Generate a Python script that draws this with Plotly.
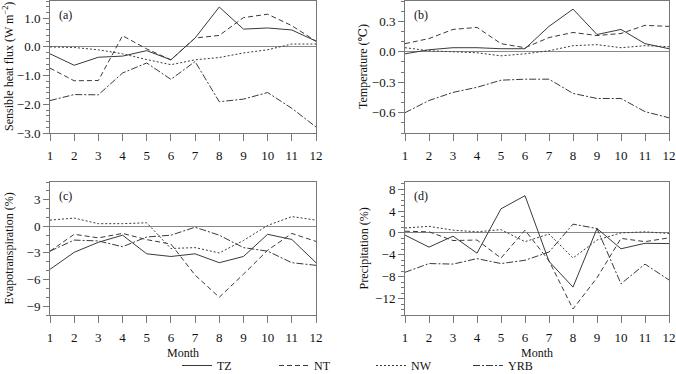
import plotly.graph_objects as go

W, H = 676, 380  # figure slightly taller than the 374px window; bottom rows are blank
months = list(range(1, 13))
series_names = ["TZ", "NT", "NW", "YRB"]

sh_TZ = [-0.24, -0.64, -0.36, -0.32, -0.13, -0.45, 0.31, 1.39, 0.62, 0.66, 0.59, 0.20]
sh_NT = [-0.74, -1.18, -1.17, 0.39, -0.07, -0.45, 0.31, 0.40, 1.02, 1.14, 0.74, 0.20]
sh_NW = [0.00, -0.02, -0.10, -0.24, -0.44, -0.62, -0.45, -0.37, -0.21, -0.10, 0.10, 0.10]
sh_YRB = [-1.87, -1.66, -1.67, -0.91, -0.56, -1.13, -0.51, -1.91, -1.82, -1.59, -2.14, -2.79]

tmp_TZ = [-0.02, 0.02, 0.04, 0.04, 0.03, 0.03, 0.25, 0.42, 0.17, 0.22, 0.08, 0.03]
tmp_NT = [0.08, 0.13, 0.22, 0.24, 0.08, 0.04, 0.14, 0.19, 0.16, 0.18, 0.26, 0.25]
tmp_NW = [0.04, 0.01, 0.00, -0.01, -0.04, -0.02, 0.01, 0.06, 0.07, 0.04, 0.06, 0.05]
tmp_YRB = [-0.60, -0.48, -0.40, -0.35, -0.28, -0.27, -0.27, -0.41, -0.46, -0.46, -0.59, -0.65]

ev_TZ = [-4.85, -2.93, -1.8, -1.0, -3.1, -3.4, -3.1, -4.1, -3.4, -0.9, -1.48, -4.1]
ev_NT = [-2.8, -0.9, -1.3, -0.8, -1.5, -2.0, -5.5, -8.0, -5.4, -2.7, -0.8, -1.7]
ev_NW = [0.7, 0.93, 0.3, 0.3, 0.4, -2.5, -2.4, -3.0, -1.6, 0.1, 1.1, 0.7]
ev_YRB = [-2.8, -1.55, -1.65, -2.3, -1.2, -1.0, -0.1, -1.0, -2.4, -2.8, -4.1, -4.4]

pr_TZ = [-0.4, -2.6, -0.6, -3.7, 4.4, 6.8, -5.2, -9.9, 0.8, -2.9, -1.9, -1.95]
pr_NT = [0.3, 0.2, -1.4, -1.3, -4.6, 0.5, -5.1, -13.9, -8.2, -1.0, -1.6, -0.9]
pr_NW = [0.9, 1.2, 0.5, 0.2, 0.6, -1.6, -0.2, -4.6, -1.3, 0.0, 0.2, -0.1]
pr_YRB = [-7.2, -5.6, -5.7, -4.7, -5.6, -5.0, -3.5, 1.6, 0.8, -9.3, -5.7, -8.6]

panel_labels = ["(a)", "(b)", "(c)", "(d)"]
y_titles = ["Sensible heat flux (W m<sup>−2</sup>)", "Temperature (℃)",
            "Evapotranspiration (%)", "Precipitation (%)"]
x_title = "Month"

panels = [
    [sh_TZ, sh_NT, sh_NW, sh_YRB],
    [tmp_TZ, tmp_NT, tmp_NW, tmp_YRB],
    [ev_TZ, ev_NT, ev_NW, ev_YRB],
    [pr_TZ, pr_NT, pr_NW, pr_YRB],
]

FONT = '"Liberation Serif", "DejaVu Serif", serif'
LINE_COL = "#3a3a3a"
AX_COL = "#777777"
dashes = ["solid", "5px,3px", "2px,2px", "7px,2px,2px,2px"]

# pixel boxes (left, right, top, bottom)
boxes = [(50, 316, 1, 133), (405, 669, 1, 133), (50, 316, 182, 315), (405, 669, 182, 315)]
yranges = [[-3, 1.6], [-0.8, 0.5], [-10, 5], [-15, 9.3]]
ytickvals = [[-3, -2, -1, 0, 1], [-0.6, -0.3, 0, 0.3], [-9, -6, -3, 0, 3], [-12, -8, -4, 0, 4, 8]]
yfmt = [".1f", ".1f", "d", "d"]
yminor = [0.2, 0.1, 1, 1]

fig = go.Figure()
layout = {}
for i, data in enumerate(panels):
    ax = "" if i == 0 else str(i + 1)
    for j, ys in enumerate(data):
        fig.add_trace(go.Scatter(
            x=months, y=ys, mode="lines", name=series_names[j],
            line=dict(color=LINE_COL, width=1, dash=dashes[j]),
            xaxis="x" + ax, yaxis="y" + ax, showlegend=(i == 0),
        ))
    l, r, t, b = boxes[i]
    layout["xaxis" + ax] = dict(
        domain=[l / W, r / W], anchor="y" + ax, range=[1, 12],
        tickvals=months, ticks="outside", ticklen=7, tickcolor=AX_COL,
        showline=True, linecolor=AX_COL, linewidth=1, mirror=True,
        showgrid=False, zeroline=False, automargin=False,
        ticklabeloverflow="allow",
        tickfont=dict(family=FONT, size=13, color="#111"), ticklabelstandoff=3,
    )
    layout["yaxis" + ax] = dict(
        domain=[1 - b / H, 1 - t / H], anchor="x" + ax, range=yranges[i],
        tickvals=ytickvals[i], tickformat=yfmt[i], ticks="outside", ticklen=6,
        tickcolor=AX_COL, showline=True, linecolor=AX_COL, linewidth=1, mirror=True,
        minor=dict(dtick=yminor[i], tick0=0, ticks="outside", ticklen=3, tickcolor=AX_COL),
        showgrid=False, zeroline=True, zerolinecolor="#888888", zerolinewidth=1,
        automargin=False, ticklabeloverflow="allow",
        tickfont=dict(family=FONT, size=13, color="#111"),
    )

ann = []
for i in range(4):
    l, r, t, b = boxes[i]
    ann.append(dict(text=panel_labels[i], x=(l + 7) / W, y=1 - (t + 14) / H,
                    xref="paper", yref="paper", xanchor="left", yanchor="middle",
                    showarrow=False, font=dict(family=FONT, size=12, color="#111")))
    tx = 8 if l < 100 else 363
    ann.append(dict(text=y_titles[i], x=tx / W, y=1 - ((t + b) / 2) / H,
                    xref="paper", yref="paper", xanchor="center", yanchor="middle",
                    textangle=-90, showarrow=False,
                    font=dict(family=FONT, size=12, color="#111")))
    if i >= 2:
        ann.append(dict(text=x_title, x=((l + r) / 2) / W, y=1 - 353 / H,
                        xref="paper", yref="paper", xanchor="center", yanchor="middle",
                        showarrow=False, font=dict(family=FONT, size=12, color="#111")))

fig.update_layout(
    width=W, height=H, margin=dict(l=0, r=0, t=0, b=0),
    paper_bgcolor="white", plot_bgcolor="white",
    annotations=ann,
    legend=dict(orientation="h", x=177 / W, y=0, xanchor="left", yanchor="bottom",
                entrywidth=52, entrywidthmode="pixels", bgcolor="rgba(0,0,0,0)",
                font=dict(family=FONT, size=12, color="#111"), tracegroupgap=0),
    **layout,
)
fig.write_html("out.html", config={"displayModeBar": False},
               post_script="document.body.style.margin='0';document.body.style.overflow='hidden';")
